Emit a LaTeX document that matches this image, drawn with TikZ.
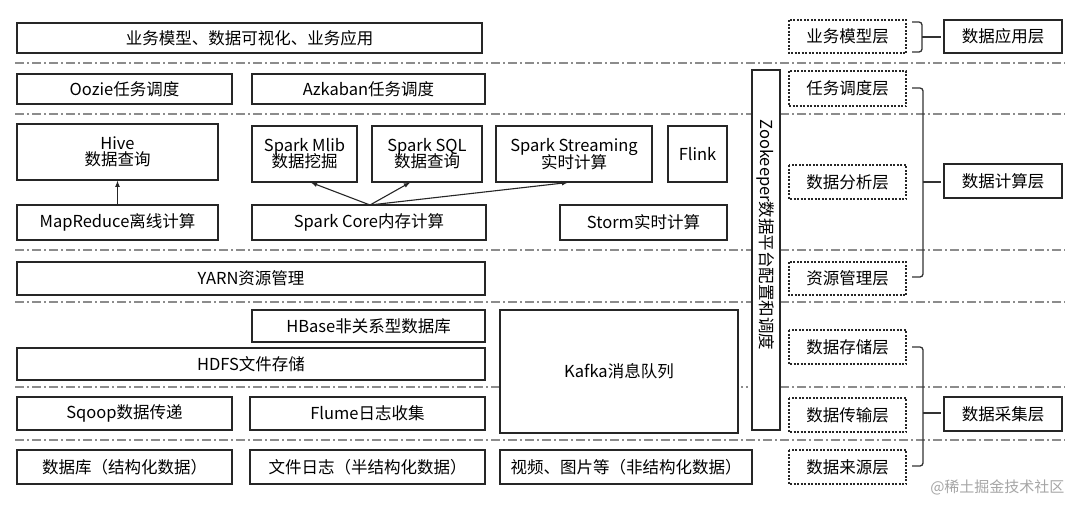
\documentclass[tikz,border=0pt]{standalone}
\usepackage{fontspec}
\setmainfont{Noto Sans CJK SC}
\begin{document}
\begin{tikzpicture}[x=1pt,y=-1pt,
 bx/.style={draw=black!85,line width=1.3pt,fill=white,inner sep=0pt},
 dbx/.style={draw=black!85,line width=1.1pt,dash pattern=on 2pt off 1.5pt,fill=white},
 sep/.style={draw=black!45,line width=1.2pt,dash pattern=on 9pt off 3pt on 2pt off 3pt},
 br/.style={draw=black!80,line width=1.3pt,rounded corners=3pt},
 arr/.style={draw=black!85,line width=1.1pt,-latex},
 t/.style={font=\fontsize{16.5}{18}\selectfont,align=center}]
\useasboundingbox (0,0) rectangle (1080,512);
\fill[white] (0,0) rectangle (1080,512);
\foreach \y in {63,114,250,302,440} \draw[sep] (15,\y) -- (1065,\y);
\draw[sep] (15,387) -- (748,387);
\draw[sep] (780,387) -- (1065,387);
\newcommand{\bb}[6]{\draw[#1] (#2,#3) rectangle (#4,#5); \node[t] at ({(#2+#4)/2},{(#3+#5)/2}) {#6};}
\bb{bx}{17}{23}{482}{53}{业务模型、数据可视化、业务应用}
\bb{bx}{17}{74}{232}{104}{Oozie任务调度}
\bb{bx}{252}{74}{485}{104}{Azkaban任务调度}
\node[bx,minimum width=201pt,minimum height=56pt,t] (hive) at (117.5,152) {Hive\\[-2pt]数据查询};
\node[bx,minimum width=201pt,minimum height=35pt,t] (mr) at (117.5,222.5) {MapReduce离线计算};
\node[bx,minimum width=105pt,minimum height=56pt,t] (mlib) at (304.5,154) {Spark Mlib\\[-2pt]数据挖掘};
\node[bx,minimum width=110pt,minimum height=56pt,t] (sql) at (427,154) {Spark SQL\\[-2pt]数据查询};
\node[bx,minimum width=156pt,minimum height=56pt,t] (stream) at (574,154) {Spark Streaming\\[-2pt]实时计算};
\node[bx,minimum width=59pt,minimum height=56pt,t] (flink) at (697.5,154) {Flink};
\node[bx,minimum width=234pt,minimum height=35pt,t] (core) at (369,222.5) {Spark Core内存计算};
\node[bx,minimum width=167pt,minimum height=35pt,t] (storm) at (643.5,222.5) {Storm实时计算};
\draw[arr] (mr.north) -- (hive.south);
\coordinate (c0) at (370,205);
\draw[arr] (c0) -- (311,182.5);
\draw[arr] (c0) -- (410,182.5);
\draw[arr] (c0) -- (568,182.5);
\bb{bx}{17}{262}{485}{295}{YARN资源管理}
\bb{bx}{252}{310}{485}{342}{HBase非关系型数据库}
\bb{bx}{17}{348}{485}{380}{HDFS文件存储}
\bb{bx}{500}{310}{738}{433}{Kafka消息队列}
\bb{bx}{17}{397}{232}{430}{Sqoop数据传递}
\bb{bx}{250}{397}{485}{430}{Flume日志收集}
\bb{bx}{17}{450}{232}{484}{数据库（结构化数据）}
\bb{bx}{250}{450}{485}{484}{文件日志（半结构化数据）}
\bb{bx}{500}{450}{752}{484}{视频、图片等（非结构化数据）}
\draw[bx] (752,70) rectangle (780,430);
\node[t,rotate=-90,anchor=west] at (766,116) {Zookeeper数据平台配置和调度};
\bb{dbx}{789}{20}{906}{53}{业务模型层}
\bb{dbx}{789}{71}{906}{106}{任务调度层}
\bb{dbx}{789}{165}{906}{199}{数据分析层}
\bb{dbx}{789}{262}{906}{295}{资源管理层}
\bb{dbx}{789}{330}{906}{364}{数据存储层}
\bb{dbx}{789}{398}{906}{432}{数据传输层}
\bb{dbx}{789}{450}{906}{484}{数据来源层}
\bb{bx}{944}{20}{1062}{53}{数据应用层}
\bb{bx}{944}{164}{1062}{198}{数据计算层}
\bb{bx}{944}{397}{1062}{431}{数据采集层}
\draw[br] (912,22) -- (922,22) -- (922,52) -- (912,52);
\draw[br] (922,37) -- (941,37);
\draw[br] (912,88) -- (923,88) -- (923,277) -- (912,277);
\draw[br] (923,182) -- (941,182);
\draw[br] (912,347) -- (923,347) -- (923,466) -- (912,466);
\draw[br] (923,413) -- (941,413);
\node[font=\fontsize{15}{16}\selectfont,text=black!35,anchor=east] at (1068,487) {@稀土掘金技术社区};
\end{tikzpicture}
\end{document}
